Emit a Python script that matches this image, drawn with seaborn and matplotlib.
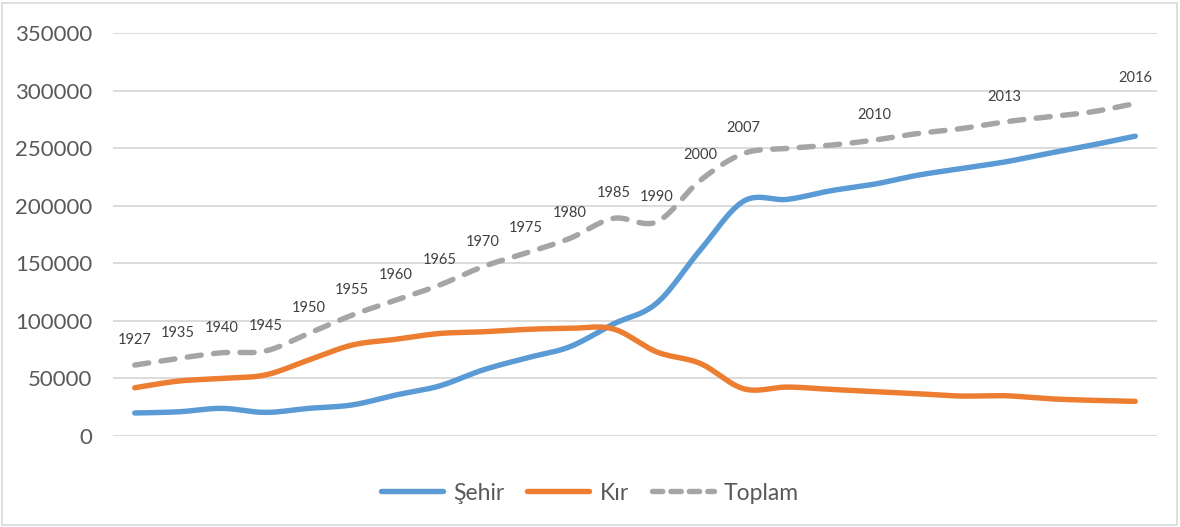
import numpy as np
import pandas as pd
import matplotlib
matplotlib.use("Agg")
import matplotlib.pyplot as plt
import seaborn as sns
from matplotlib.lines import Line2D

years = ["1927", "1935", "1940", "1945", "1950", "1955", "1960", "1965", "1970",
         "1975", "1980", "1985", "1990", "2000", "2007", "2008", "2009", "2010",
         "2011", "2012", "2013", "2014", "2015", "2016"]
sehir = [20000, 21000, 24000, 20500, 24000, 27000, 35600, 43400, 57300,
         67700, 77500, 97200, 115400, 161500, 204000, 205500, 213000, 218700,
         226500, 232300, 238000, 245400, 252600, 260400]
kir = [41900, 47700, 50000, 53000, 66000, 79000, 84000, 89000, 90500,
       92600, 93500, 93000, 73000, 63000, 41000, 42500, 40500, 38500,
       36700, 34700, 35000, 32400, 31000, 30100]
toplam = [61600, 67400, 72300, 73800, 89100, 105000, 118000, 131000, 147000,
          159000, 171600, 189000, 186000, 222000, 245400, 249700, 252600, 257000,
          262700, 267000, 272800, 277200, 281500, 288800]
labeled_years = ["1927", "1935", "1940", "1945", "1950", "1955", "1960", "1965",
                 "1970", "1975", "1980", "1985", "1990", "2000", "2007", "2010",
                 "2013", "2016"]
series_names = ["Şehir", "Kır", "Toplam"]
colors = ["#5B9BD5", "#ED7D31", "#A5A5A5"]
yticks = [0, 50000, 100000, 150000, 200000, 250000, 300000, 350000]


def smooth_curve(xs, ys, n=24):
    """Excel-style smoothed line: cubic Bezier through the data points (Catmull-Rom)."""
    xs = np.asarray(xs, float)
    ys = np.asarray(ys, float)
    px = np.concatenate([[xs[0]], xs, [xs[-1]]])
    py = np.concatenate([[ys[0]], ys, [ys[-1]]])
    out_x, out_y = [], []
    t = np.linspace(0, 1, n, endpoint=False)
    for i in range(1, len(px) - 2):
        p0 = np.array([px[i], py[i]])
        p3 = np.array([px[i + 1], py[i + 1]])
        c1 = p0 + (np.array([px[i + 1], py[i + 1]]) - np.array([px[i - 1], py[i - 1]])) / 6
        c2 = p3 - (np.array([px[i + 2], py[i + 2]]) - np.array([px[i], py[i]])) / 6
        b = ((1 - t) ** 3)[:, None] * p0 + (3 * (1 - t) ** 2 * t)[:, None] * c1 \
            + (3 * (1 - t) * t ** 2)[:, None] * c2 + (t ** 3)[:, None] * p3
        out_x.extend(b[:, 0])
        out_y.extend(b[:, 1])
    out_x.append(xs[-1])
    out_y.append(ys[-1])
    return np.array(out_x), np.array(out_y)


sns.set_theme(style="white")
plt.rcParams["font.family"] = ["Lato", "DejaVu Sans"]

fig = plt.figure(figsize=(11.8, 5.27), dpi=100)
ax = fig.add_axes([113/1180, 1-436/527, (1157-113)/1180, (436-33)/527])

pos = np.arange(len(years))
lw = 3.9
for name, vals, col in zip(series_names, [sehir, kir, toplam], colors):
    sx, sy = smooth_curve(pos, vals)
    d = pd.DataFrame({"x": sx, "y": sy})
    sns.lineplot(data=d, x="x", y="y", ax=ax, color=col, lw=lw, sort=False,
                 solid_capstyle="round", zorder=3)
tl = ax.lines[-1]
tl.set_dashes((2.6, 2.3))
tl.set_dash_capstyle("round")

for i, (y, v) in enumerate(zip(years, toplam)):
    if y in labeled_years:
        ax.annotate(y, (i, v), xytext=(0, 18), textcoords="offset points",
                    ha="center", va="center", fontsize=10.5, color="#404040")

ax.set_xlim(-0.5, len(years) - 0.5)
ax.set_ylim(0, 350000)
ax.set_yticks(yticks)
ax.set_yticklabels([str(t) for t in yticks], fontsize=16, color="#595959")
ax.set_xticks([])
ax.set_xlabel("")
ax.set_ylabel("")
ax.tick_params(axis="y", length=0, pad=15)
ax.grid(axis="y", color="#D9D9D9", lw=1.3)
ax.set_axisbelow(True)
for s in ax.spines.values():
    s.set_visible(False)

handles = [Line2D([], [], color=colors[0], lw=lw, solid_capstyle="round"),
           Line2D([], [], color=colors[1], lw=lw, solid_capstyle="round"),
           Line2D([], [], color=colors[2], lw=lw, dashes=(1.9, 1.5),
                  dash_capstyle="round")]
ax.legend(handles, series_names, loc="center", bbox_to_anchor=(0.5, 1-493/527),
          bbox_transform=fig.transFigure, ncol=3, frameon=False, fontsize=16.5,
          handlelength=2.7, handletextpad=0.45, columnspacing=1.0,
          labelcolor="#595959")

border = plt.Rectangle((2/1180, 2/527), 1-5/1180, 1-5/527, transform=fig.transFigure,
                       fill=False, edgecolor="#D9D9D9", lw=1.2)
fig.patches.append(border)

fig.savefig("out.png", dpi=100, facecolor="white")
